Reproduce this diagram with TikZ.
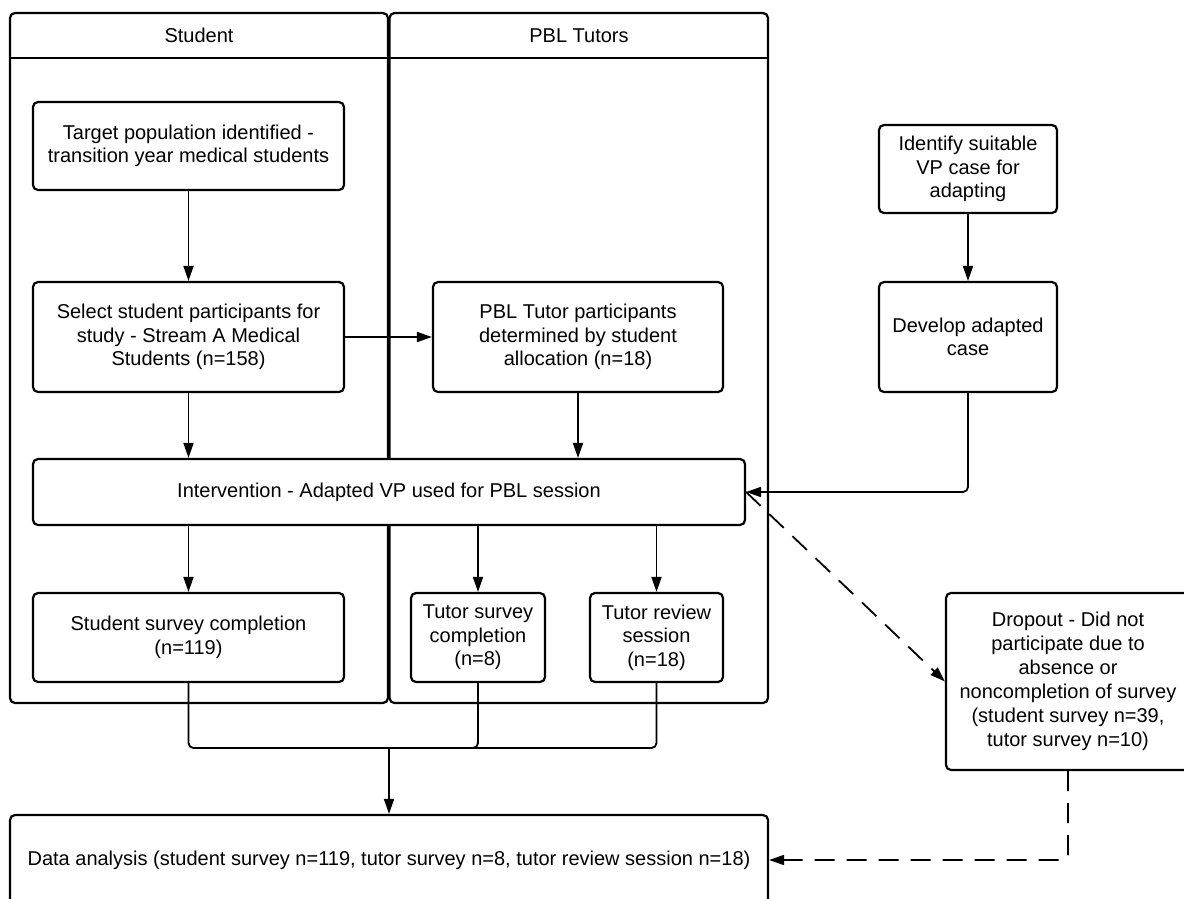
\documentclass[tikz,border=0pt]{standalone}
\usepackage{fontspec}
\setmainfont{Liberation Sans}
\usetikzlibrary{arrows.meta}
\newcommand\dfont{\fontsize{20}{23.5}\selectfont}
\tikzset{
  box/.style={draw, fill=white, line width=2.2pt, rounded corners=5pt, align=center, inner sep=0pt, font=\dfont},
  lane/.style={draw, line width=2.2pt, rounded corners=5pt},
  arr/.style={line width=1.8pt, -{Triangle[length=15pt,width=10pt]}},
  lnk/.style={line width=1.8pt, rounded corners=5pt},
  dsh/.style={line width=1.8pt, dash pattern=on 20pt off 12pt, -{Triangle[length=15pt,width=10pt]}},
}
\begin{document}
\begin{tikzpicture}[x=1pt,y=-1pt]
\useasboundingbox (0,0) rectangle (1184,898);
\begin{scope}
\clip (0,0) rectangle (1184,898);
% swim lanes
\draw[lane] (10,13) rectangle (388,703);
\draw[line width=2.2pt] (10,58) -- (388,58);
\node[font=\dfont] (hS) at (199,35.5) {Student};
\draw[lane] (389.5,13) rectangle (768,703);
\draw[line width=2.2pt] (389.5,58) -- (768,58);
\node[font=\dfont] (hT) at (579,35.5) {PBL Tutors};

% boxes
\node[box, minimum width=311pt, minimum height=88pt] (target) at (188.5,146) {Target population identified -\\transition year medical students};
\node[box, minimum width=311pt, minimum height=110pt] (select) at (188.5,337) {Select student participants for\\study - Stream A Medical\\Students (n=158)};
\node[box, minimum width=290pt, minimum height=110pt] (pbl) at (578,337) {PBL Tutor participants\\determined by student\\allocation (n=18)};
\node[box, minimum width=178pt, minimum height=88pt] (identify) at (968,169) {Identify suitable\\VP case for\\adapting};
\node[box, minimum width=178pt, minimum height=110pt] (develop) at (968,337) {Develop adapted\\case};
\node[box, minimum width=712pt, minimum height=66pt] (interv) at (389,492) {Intervention - Adapted VP used for PBL session};
\node[box, minimum width=311pt, minimum height=89pt] (ss) at (188.5,637.5) {Student survey completion\\(n=119)};
\node[box, minimum width=134pt, minimum height=89pt] (ts) at (478,637.5) {Tutor survey\\completion\\(n=8)};
\node[box, minimum width=133pt, minimum height=89pt] (tr) at (656.5,637.5) {Tutor review\\session\\(n=18)};
\node[box, minimum width=244pt, minimum height=177pt, font=\fontsize{20}{24}\selectfont] (dropout) at (1068,681.5) {Dropout - Did not\\participate due to\\absence or\\noncompletion of survey\\(student survey n=39,\\tutor survey n=10)};
\node[box, minimum width=758pt, minimum height=90pt] (data) at (389,860) {Data analysis (student survey n=119, tutor survey n=8, tutor review session n=18)};

% connectors
\draw[arr] (target) -- (select);
\draw[arr] (select.east) -- (pbl.west);
\draw[arr] (select.south) -- (select.south |- interv.north);
\draw[arr] (pbl.south) -- (pbl.south |- interv.north);
\draw[arr] (identify) -- (develop);
\draw[arr, rounded corners=5pt] (develop.south) |- (interv.east);
\draw[arr] (ss.north |- interv.south) -- (ss.north);
\draw[arr] (ts.north |- interv.south) -- (ts.north);
\draw[arr] (tr.north |- interv.south) -- (tr.north);
\draw[dsh] (interv.east) -- (dropout.west);
\coordinate (m) at (389,748);
\draw[lnk] (ss.south) |- (m);
\draw[lnk] (ts.south) |- (m);
\draw[lnk] (tr.south) |- (m);
\draw[arr] (m) -- (data.north);
\draw[dsh, rounded corners=5pt] (dropout.south) |- (data.east);
\end{scope}
\end{tikzpicture}
\end{document}
